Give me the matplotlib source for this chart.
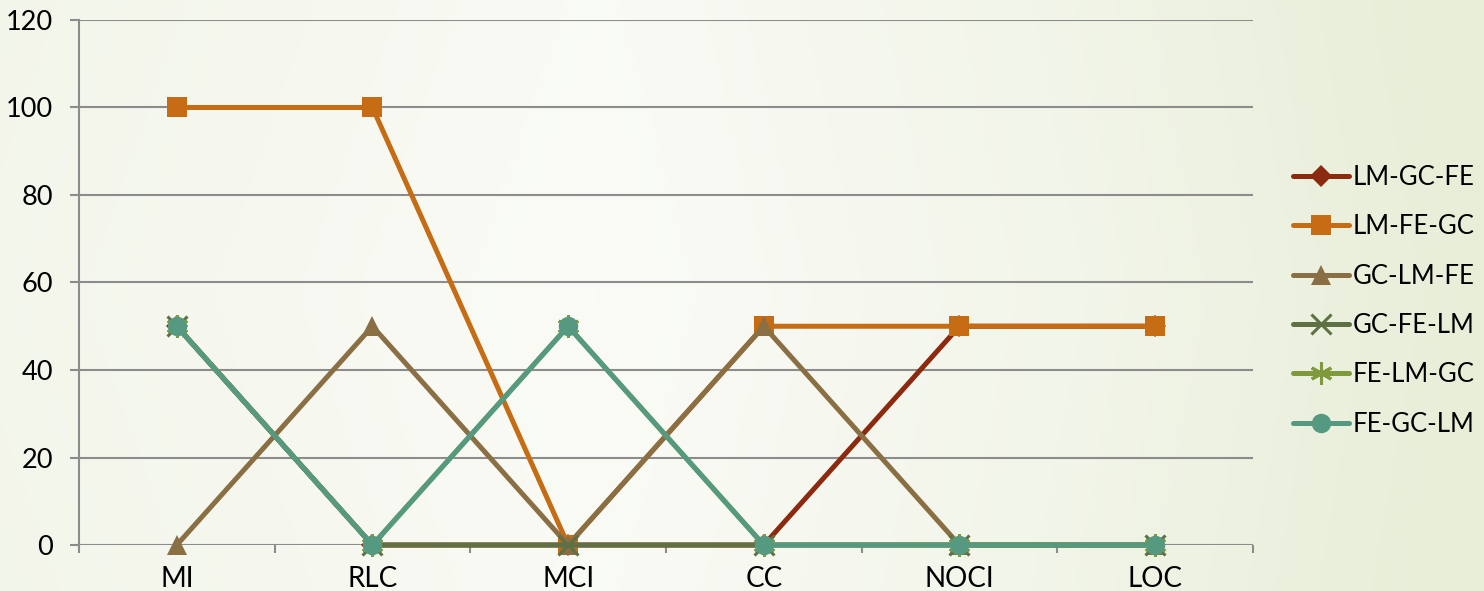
import numpy as np
import matplotlib
matplotlib.use("Agg")
import matplotlib.pyplot as plt
from matplotlib.colors import LinearSegmentedColormap

plt.rcParams['font.family'] = ['Lato', 'DejaVu Sans']

categories = ["MI", "RLC", "MCI", "CC", "NOCI", "LOC"]
series_names = ["LM-GC-FE", "LM-FE-GC", "GC-LM-FE", "GC-FE-LM", "FE-LM-GC", "FE-GC-LM"]
lm_gc_fe = [50, 0, 0, 0, 50, 50]
lm_fe_gc = [100, 100, 0, 50, 50, 50]
gc_lm_fe = [0, 50, 0, 50, 0, 0]
gc_fe_lm = [50, 0, 0, 0, 0, 0]
fe_lm_gc = [50, 0, 50, 0, 0, 0]
fe_gc_lm = [50, 0, 50, 0, 0, 0]
y_ticks = [0, 20, 40, 60, 80, 100, 120]

series_values = [lm_gc_fe, lm_fe_gc, gc_lm_fe, gc_fe_lm, fe_lm_gc, fe_gc_lm]
colors = ["#8c2a10", "#c56c14", "#8a6e44", "#5f7144", "#7f9a3c", "#559a80"]
markers = ["D", "s", "^", "x", "*", "o"]
msizes = [11, 14, 14, 14, 16, 14]

fig = plt.figure(figsize=(14.84, 5.91), dpi=100)

# soft background gradient
bg = fig.add_axes([0, 0, 1, 1], zorder=-10)
xs = np.linspace(0, 1, 400)
ys = np.linspace(0, 1, 200)
X, Y = np.meshgrid(xs, ys)
t = np.clip(0.35 * np.abs(X - 0.4) / 0.6 + 0.08 * np.abs(Y - 0.5) + 0.55 * np.clip(X - 0.4, 0, None) ** 1.5, 0, 1)
cmap = LinearSegmentedColormap.from_list("bg", ["#fafbf6", "#f2f5e9", "#e8eed8"])
bg.imshow(t, cmap=cmap, aspect="auto", extent=[0, 1, 0, 1], origin="lower", vmin=0, vmax=0.6)
bg.axis("off")

ax = fig.add_axes([0.0532, 0.0778, 0.8443 - 0.0532, 0.9662 - 0.0778])
ax.patch.set_alpha(0)

x = np.arange(len(categories))
for name, vals, c, m, ms in zip(series_names, series_values, colors, markers, msizes):
    kw = dict(markeredgewidth=2.2) if m in ("x", "*") else dict(markeredgewidth=0)
    if m == "*":
        m = (6, 2, 0)
    ax.plot(x, vals, color=c, lw=3.6, marker=m, markersize=ms, markerfacecolor=c,
            markeredgecolor=c, label=name, solid_capstyle="round", clip_on=False, **kw)

ax.set_xlim(-0.5, len(categories) - 0.5)
ax.set_ylim(0, 120)
ax.set_yticks(y_ticks)
ax.set_yticklabels([str(v) for v in y_ticks])
ax.yaxis.grid(True, color="#8c8c8c", lw=1.5)
ax.set_axisbelow(True)

for s in ["top", "right", "bottom"]:
    ax.spines[s].set_visible(False)
ax.spines["left"].set_color("#8c8c8c")
ax.spines["left"].set_linewidth(1.5)

ax.set_xticks(x)
ax.set_xticklabels(categories)
ax.set_xticks(np.arange(-0.5, len(categories)), minor=True)
ax.tick_params(axis="x", which="major", length=0, pad=15, labelsize=20)
ax.tick_params(axis="x", which="minor", length=6, width=1.5, color="#8c8c8c")
ax.tick_params(axis="y", length=6.5, width=1.5, color="#8c8c8c", pad=12, labelsize=19.5)

leg = ax.legend(loc="center left", bbox_to_anchor=(1.025, 0.465), frameon=False,
                fontsize=18.5, handlelength=2.2, handletextpad=0.15, labelspacing=0.95,
                borderaxespad=0)

fig.savefig("out.png", dpi=100)
